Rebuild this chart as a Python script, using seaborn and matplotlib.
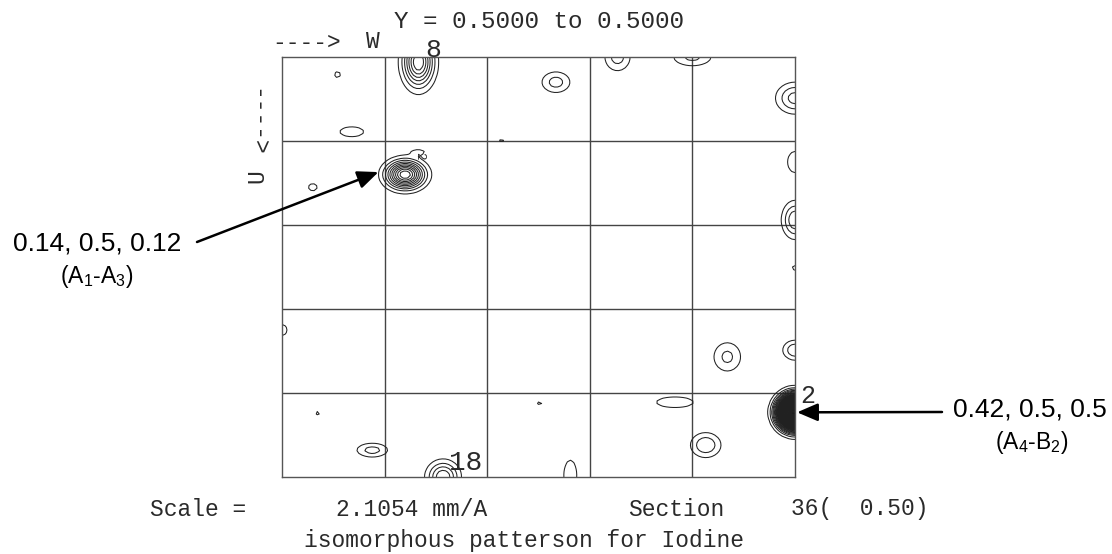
import numpy as np
import matplotlib
matplotlib.use("Agg")
import matplotlib.pyplot as plt
import seaborn as sns

# Patterson peaks: position (U down, W across), height, spread in U and W
peak_u = [0.140, 0.006, 0.423, 0.030, 0.021, 0.089, 0.155, 0.000, 0.000, 0.049,
          0.125, 0.194, 0.251, 0.099, 0.220, 0.325, 0.357, 0.349, 0.411, 0.462,
          0.498, 0.412, 0.424, 0.468, 0.500, 0.113]
peak_w = [0.120, 0.133, 0.500, 0.267, 0.054, 0.068, 0.030, 0.327, 0.400, 0.500,
          0.500, 0.500, 0.500, 0.214, 0.261, 0.000, 0.434, 0.500, 0.383, 0.413,
          0.281, 0.251, 0.035, 0.088, 0.157, 0.133]
peak_h = [11.0, 8.0, 60.0, 2.5, 1.3, 1.6, 1.3, 2.5, 2.3, 3.5,
          1.5, 4.0, 1.3, 1.3, 1.2, 1.4, 2.3, 3.0, 1.5, 3.0,
          1.5, 1.3, 1.3, 2.5, 5.0, 1.4]
peak_su = [0.0105, 0.019, 0.0112, 0.009, 0.005, 0.006, 0.006, 0.012, 0.008, 0.012,
           0.014, 0.014, 0.004, 0.003, 0.003, 0.008, 0.013, 0.008, 0.007, 0.010,
           0.020, 0.003, 0.003, 0.006, 0.012, 0.003]
peak_sw = [0.0118, 0.0096, 0.0092, 0.010, 0.004, 0.012, 0.006, 0.009, 0.014, 0.012,
           0.008, 0.008, 0.004, 0.003, 0.003, 0.006, 0.010, 0.008, 0.020, 0.010,
           0.007, 0.003, 0.003, 0.011, 0.010, 0.006]

grid_w = [0.1, 0.2, 0.3, 0.4]
grid_u = [0.1, 0.2, 0.3, 0.4]

# peak coordinates that the arrows point to (U, W)
target_u = [0.137, 0.423]
target_w = [0.094, 0.502]
label_main = ["0.14, 0.5, 0.12", "0.42, 0.5, 0.5"]
label_sub = [r"(A$_{\mathregular{1}}$-A$_{\mathregular{3}}$)",
             r"(A$_{\mathregular{4}}$-B$_{\mathregular{2}}$)"]

# ---------------- build density on the section ----------------
u = np.linspace(0, 0.5, 161)
w = np.linspace(0, 0.5, 161)
W, U = np.meshgrid(w, u)
Z = np.zeros_like(W)
for pu, pw, h, su, sw in zip(peak_u, peak_w, peak_h, peak_su, peak_sw):
    Z += h * np.exp(-((U - pu) ** 2 / (2 * su ** 2) + (W - pw) ** 2 / (2 * sw ** 2)))

# ---------------- plot ----------------
sns.set_theme(style="white")
plt.rcParams["font.family"] = ["Liberation Mono", "DejaVu Sans Mono"]
plt.rcParams["mathtext.fontset"] = "custom"
plt.rcParams["mathtext.rm"] = "Liberation Sans"

fig = plt.figure(figsize=(11.12, 5.54), dpi=100)
fig.patch.set_facecolor("white")
ax = fig.add_axes([282 / 1112, 77 / 554, 513 / 1112, 420 / 554])
ax.set_facecolor("white")

ax.contour(W, U, Z, levels=np.arange(1, 61, 1), colors="#222222", linewidths=0.75)
ax.contourf(W, U, Z, levels=[11.5, 1000], colors="black")

for gw in grid_w:
    ax.axvline(gw, color="#444444", lw=1.0, zorder=0)
for gu in grid_u:
    ax.axhline(gu, color="#444444", lw=1.0, zorder=0)

ax.set_xlim(0, 0.5)
ax.set_ylim(0.5, 0)
ax.set_xticks([])
ax.set_yticks([])
for s in ax.spines.values():
    s.set_color("#555555")
    s.set_linewidth(1.0)
    s.set_visible(True)

H = 554.0
def fx(x):
    return x / 1112.0
def fy(y):
    return 1 - y / H

tc = "#2a2a2a"
mono = 16.5
fig.text(fx(539), fy(22), "Y = 0.5000 to 0.5000", ha="center", va="center", fontsize=17.5, color=tc)
fig.text(fx(307), fy(42), "---->", ha="center", va="center", fontsize=mono, color=tc)
fig.text(fx(373), fy(42), "W", ha="center", va="center", fontsize=mono, color=tc)
fig.text(fx(257), fy(122), "---->", ha="center", va="center", fontsize=mono, color=tc, rotation=-90)
fig.text(fx(257), fy(176), "U", ha="center", va="center", fontsize=mono, color=tc, rotation=90)

# contour labels
fig.text(fx(433), fy(50), "8", ha="center", va="center", fontsize=19, color=tc)
fig.text(fx(419), fy(156), "2", ha="center", va="center", fontsize=9, color=tc, rotation=-90)
fig.text(fx(808), fy(396), "2", ha="center", va="center", fontsize=18, color=tc)
fig.text(fx(466), fy(463), "18", ha="center", va="center", fontsize=20, color=tc)

# footer
fig.text(fx(198), fy(509), "Scale =", ha="center", va="center", fontsize=mono, color=tc)
fig.text(fx(412), fy(509), "2.1054 mm/A", ha="center", va="center", fontsize=mono, color=tc)
fig.text(fx(676), fy(509), "Section", ha="center", va="center", fontsize=mono, color=tc)
fig.text(fx(860), fy(509), "36(  0.50)", ha="center", va="center", fontsize=mono, color=tc)
fig.text(fx(524), fy(540), "isomorphous patterson for Iodine", ha="center", va="center",
         fontsize=mono, color=tc)

# annotations
sans = "Liberation Sans"
label_pos = [(97, 243), (1030, 410)]
sub_pos = [(97, 277), (1032, 443)]
arrow_start = [(197, 242), (942, 412)]
for i in range(2):
    fig.text(fx(label_pos[i][0]), fy(label_pos[i][1]), label_main[i], ha="center", va="center",
             fontsize=19, family=sans, color="black")
    fig.text(fx(sub_pos[i][0]), fy(sub_pos[i][1]), label_sub[i], ha="center", va="center",
             fontsize=16.5, family=sans, color="black")
    ax.annotate("", xy=(target_w[i], target_u[i]), xycoords="data",
                xytext=(arrow_start[i][0], H - arrow_start[i][1]), textcoords="figure pixels",
                arrowprops=dict(arrowstyle="-|>,head_length=0.7,head_width=0.3", color="black",
                                lw=1.8, shrinkA=0, shrinkB=0, mutation_scale=18),
                annotation_clip=False)

fig.savefig("out.png", dpi=100, facecolor="white")
